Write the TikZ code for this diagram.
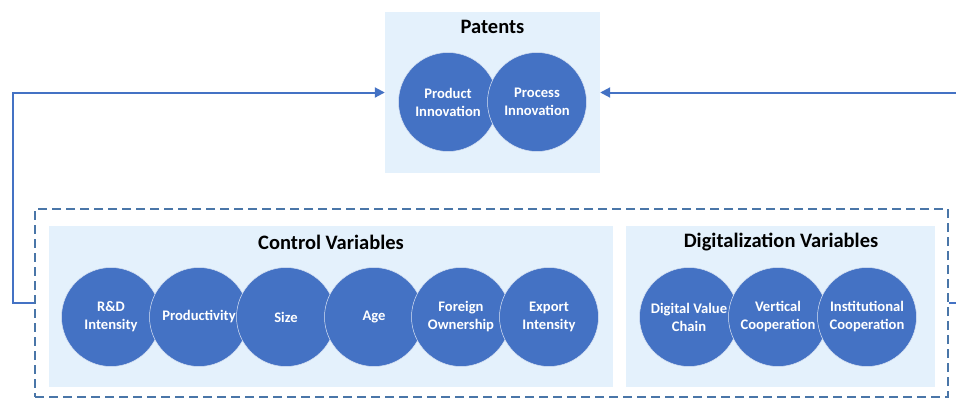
\documentclass[tikz,border=0pt]{standalone}
\usepackage{fontspec}
\setmainfont{Carlito}
\usetikzlibrary{arrows.meta}
\definecolor{cblue}{HTML}{4472C4}
\definecolor{boxfill}{HTML}{E4F1FC}
\definecolor{dashcol}{HTML}{4A76A8}
\begin{document}
\begin{tikzpicture}[x=1pt,y=-1pt,
  panel/.style={draw=none,fill=boxfill,inner sep=0pt},
  circ/.style={circle,fill=cblue,draw=white!80!cblue,line width=0.5pt,minimum size=99pt,inner sep=0pt,
    text=white,font=\fontsize{14.6}{18}\selectfont\bfseries,align=center},
  ttl/.style={font=\fontsize{20.5}{24}\selectfont\bfseries,text=black},
  conn/.style={draw=cblue,line width=2pt,-{Triangle[length=10pt,width=10pt]}}]
\useasboundingbox (0,0) rectangle (956,399);
% boxes
\node[panel,minimum width=215pt,minimum height=161pt] (pat) at (492.5,92.5) {};
\node[draw=dashcol,dash pattern=on 9pt off 5pt,line width=2pt,minimum width=913pt,minimum height=188pt,inner sep=0pt] (dash) at (491.5,303) {};
\node[panel,minimum width=564pt,minimum height=161pt] (ctrl) at (331,306.5) {};
\node[panel,minimum width=309pt,minimum height=161pt] (digi) at (780.5,306.5) {};
% titles
\node[ttl] (tpat) at (492.5,27) {Patents};
\node[ttl] (tctrl) at (331,242) {Control Variables};
\node[ttl] (tdigi) at (781,242) {Digitalization Variables};
% patents circles
\node[circ] (p1) at (448,102) {Product\\Innovation};
\node[circ] (p2) at (537,102) {Process\\Innovation};
% control circles
\node[circ] (c1) at (111,317) {R\&D\\Intensity};
\node[circ] (c2) at (199,317) {Productivity};
\node[circ] (c3) at (286,317) {Size};
\node[circ] (c4) at (374,317) {Age};
\node[circ] (c5) at (461,317) {Foreign\\Ownership};
\node[circ] (c6) at (549,317) {Export\\Intensity};
% digital circles
\node[circ] (d1) at (689,317) {Digital Value\\Chain};
\node[circ] (d2) at (778,317) {Vertical\\Cooperation};
\node[circ] (d3) at (867,317) {Institutional\\Cooperation};
% connectors
\draw[conn] (dash.west) -- ++(-21,0) |- (pat.west);
\draw[conn] (dash.east) -- ++(20,0) |- (pat.east);
\end{tikzpicture}
\end{document}
